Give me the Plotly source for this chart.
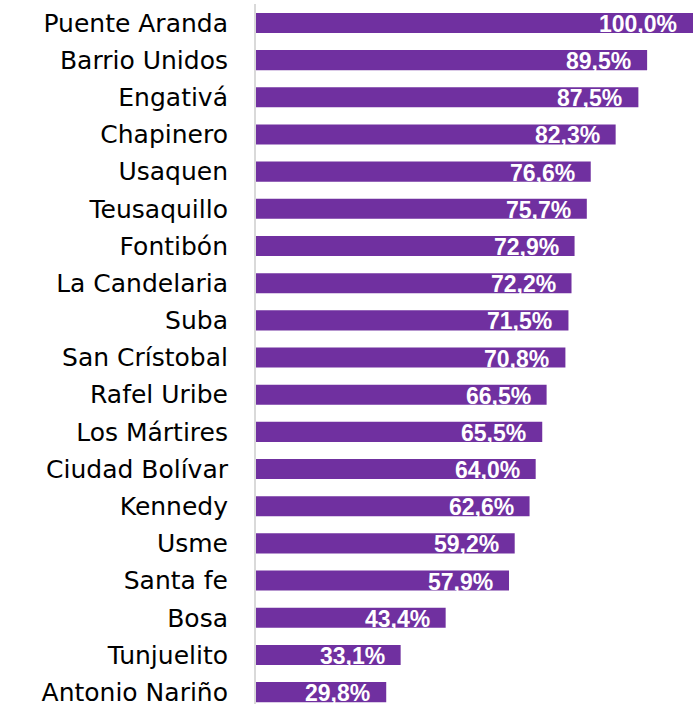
import plotly.graph_objects as go

categories = ["Puente Aranda", "Barrio Unidos", "Engativá", "Chapinero", "Usaquen",
              "Teusaquillo", "Fontibón", "La Candelaria", "Suba", "San Crístobal",
              "Rafel Uribe", "Los Mártires", "Ciudad Bolívar", "Kennedy", "Usme",
              "Santa fe", "Bosa", "Tunjuelito", "Antonio Nariño"]
values = [100.0, 89.5, 87.5, 82.3, 76.6, 75.7, 72.9, 72.2, 71.5, 70.8,
          66.5, 65.5, 64.0, 62.6, 59.2, 57.9, 43.4, 33.1, 29.8]
labels = [f"{v:.1f}".replace(".", ",") + "%" for v in values]

fig = go.Figure(go.Bar(
    x=values, y=categories, orientation="h",
    marker=dict(color="#7030A0", line=dict(width=0)),
    width=0.54, hoverinfo="skip",
))

for c, v, t in zip(categories, values, labels):
    fig.add_annotation(x=v, y=c, text=f"<b>{t}</b>", showarrow=False,
                       xanchor="right", xshift=-14, yshift=-1,
                       font=dict(family="Liberation Sans, Arial", size=23, color="white"))

fig.update_layout(
    width=693, height=707,
    margin=dict(l=256, r=0, t=4, b=0),
    paper_bgcolor="white", plot_bgcolor="white",
    showlegend=False,
    xaxis=dict(range=[0, 100], visible=False, fixedrange=True),
    yaxis=dict(type="category", categoryorder="array", categoryarray=categories,
               range=[18.32, -0.51], showline=True, linecolor="#d9d9d9", linewidth=2,
               showgrid=False, ticks="", ticklabelstandoff=21, fixedrange=True,
               tickfont=dict(family="DejaVu Sans", size=25, color="#000000")),
)

fig.write_html("out.html", config={"displayModeBar": False},
               post_script="document.body.style.margin='0';")
